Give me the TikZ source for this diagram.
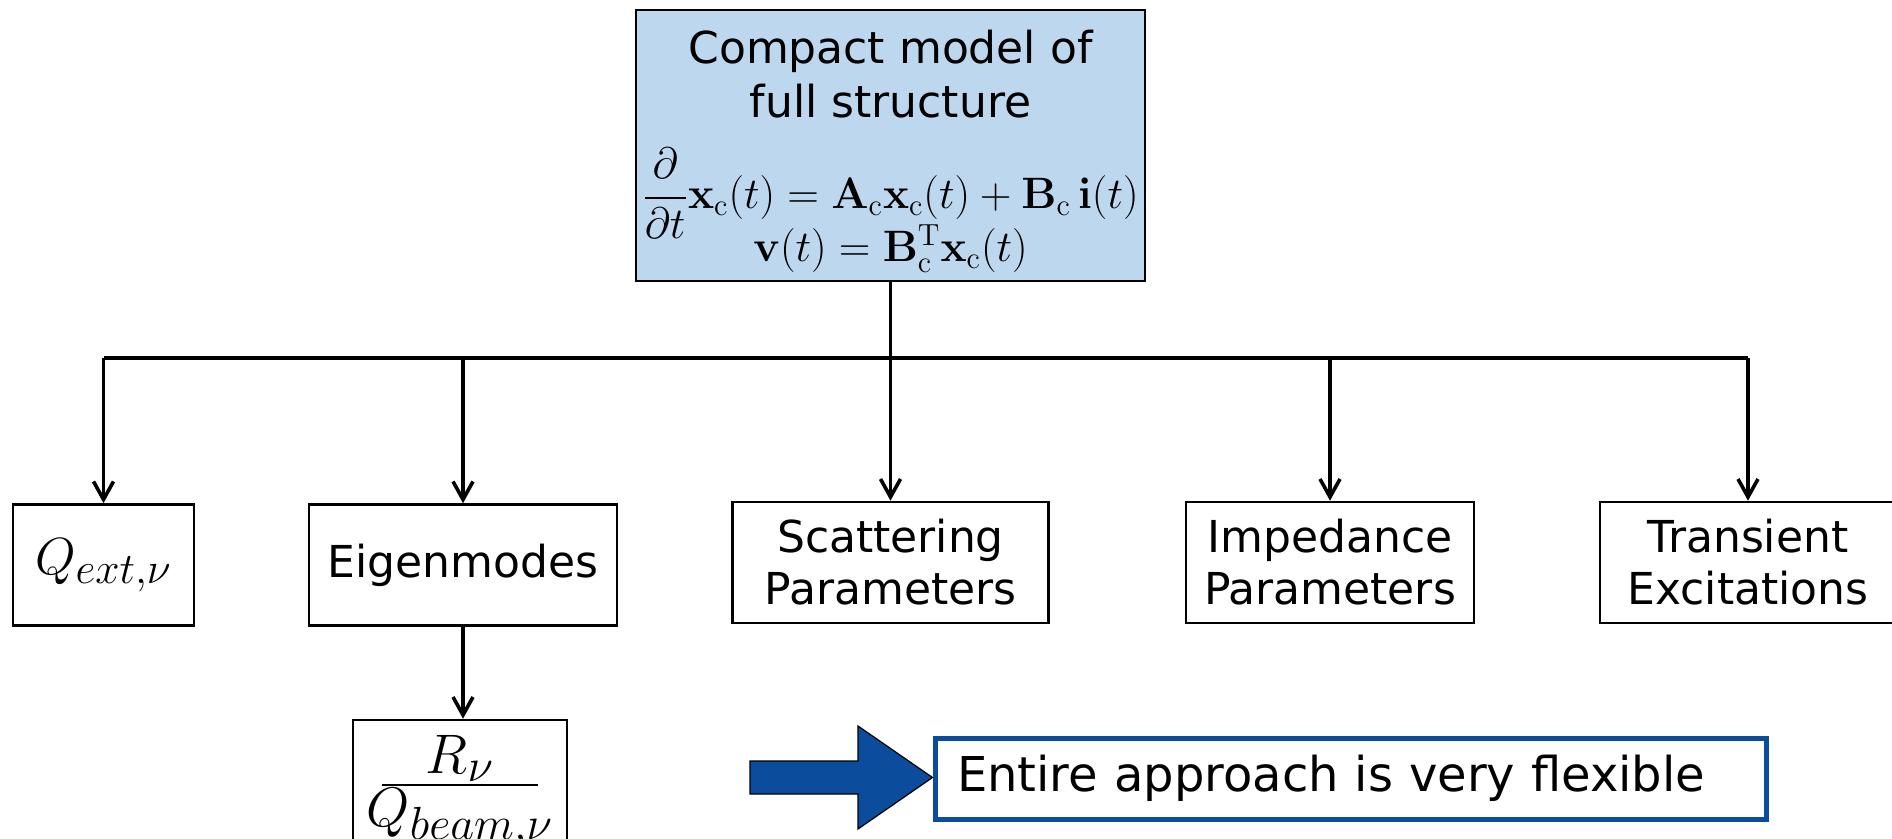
\documentclass[tikz,border=0pt]{standalone}
\usepackage{amsmath}
\usepackage{graphicx}
\usepackage[no-math]{fontspec}
\setmainfont{DejaVu Sans}
\usetikzlibrary{arrows.meta,positioning}
\definecolor{boxblue}{RGB}{189,215,238}
\definecolor{darkblue}{RGB}{12,76,156}
\tikzset{
  blk/.style = {draw = black, line width = 1.3pt, inner sep = 0pt, align = center, font = \fontsize{22}{26}\selectfont},
  link/.style = {line width = 1.8pt, -{Straight Barb[length = 9pt, width = 10pt]}}
}
\begin{document}
\begin{tikzpicture}[x = 0.5pt, y = -0.5pt]
\pgfmathsetlengthmacro\rowh{60.5pt};
\useasboundingbox (0,0) rectangle (1892,839);
\clip (0,0) rectangle (1892,839);
\node[blk, fill = boxblue, minimum width = 254.5pt, minimum height = 135.5pt] (model) at (890.5,145.5) {};
\node[align = center, inner sep = 0pt, font = \fontsize{22}{27}\selectfont, yshift = -3pt] (modeltext) at (model) {Compact model of\\ full structure\\[14pt]
{\fontsize{20.74}{25}\selectfont\scalebox{1.06}{$\displaystyle\frac{\partial}{\partial t}\mathbf{x}_\mathrm{c}(t)=\mathbf{A}_\mathrm{c}\mathbf{x}_\mathrm{c}(t)+\mathbf{B}_\mathrm{c}\,\mathbf{i}(t)$}}\\[-8pt]
{\fontsize{20.74}{25}\selectfont\scalebox{1.06}{$\mathbf{v}(t)=\mathbf{B}_\mathrm{c}^\mathrm{T}\mathbf{x}_\mathrm{c}(t)$}}};
\node[blk, font = \fontsize{24.88}{30}\selectfont, minimum width = 90.5pt, minimum height = \rowh] (qext) at (103.5,565) {\scalebox{1.05}{$Q_{ext,\nu}$}};
\node[blk, minimum width = 154pt, minimum height = \rowh] (eigen) at (463,565) {Eigenmodes};
\node[blk, minimum width = 158pt, minimum height = \rowh] (scatter) at (890.5,562.5) {Scattering\\ Parameters};
\node[blk, minimum width = 144pt, minimum height = \rowh] (imped) at (1330,562.5) {Impedance\\ Parameters};
\node[blk, minimum width = 148pt, minimum height = \rowh] (trans) at (1748,562.5) {Transient\\ Excitations};
\node[blk, font = \fontsize{24.88}{30}\selectfont, minimum width = 107pt, minimum height = 72pt] (rq) at (460,792) {\scalebox{1.12}{$\genfrac{}{}{}{1}{\displaystyle R_\nu}{\kern-7pt\raisebox{-4pt}{$\displaystyle Q_{beam,\nu}$}\kern-7pt}$}};
\node[draw = darkblue, line width = 2.5pt, inner sep = 0pt, minimum width = 415.5pt, minimum height = 40.5pt, text width = 393.5pt, align = left, font = \fontsize{24}{28}\selectfont] (flex) at (1350.5,778.5) {Entire approach is very flexible};
\coordinate (bar) at (890.5,358);
\draw[line width = 1.8pt] (model.south) -- (bar);
\draw[line width = 1.8pt] (qext.north |- bar) -- (trans.north |- bar);
\foreach \b in {qext,eigen,scatter,imped,trans} \draw[link] (\b.north |- bar) -- (\b.north);
\draw[link] (eigen.south) -- (eigen.south |- rq.north);
\draw[fill = darkblue, draw = black, line width = 0.6pt] (750,761) -- (858,761) -- (858,726) -- (flex.west |- 0,777.5) -- (858,829) -- (858,794) -- (750,794) -- cycle;
\end{tikzpicture}
\end{document}
